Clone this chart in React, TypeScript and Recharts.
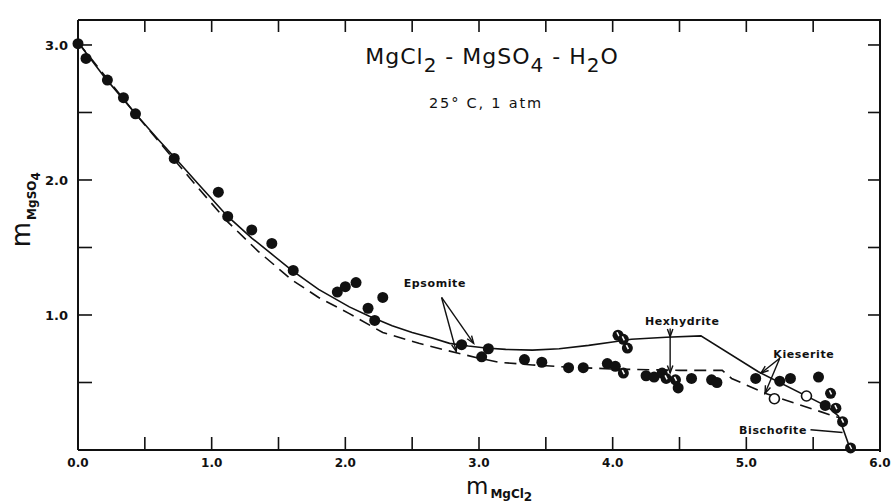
import React from "react";
import {
  ComposedChart,
  CartesianGrid,
  Line,
  Scatter,
  XAxis,
  YAxis,
  ReferenceLine,
  ReferenceDot,
} from "recharts";

// MgCl2 - MgSO4 - H2O, 25 °C, 1 atm (solubility diagram)
const X_MAX = 6;
const Y_MAX = 3.185;
const X_TICKS = [0, 0.5, 1, 1.5, 2, 2.5, 3, 3.5, 4, 4.5, 5, 5.5, 6];
const X_LABELS = [0, 1, 2, 3, 4, 5, 6];
const Y_TICKS = [0, 0.5, 1, 1.5, 2, 2.5, 3];
const Y_LABELS = [1, 2, 3];

// computed curve (solid)
const SOLID_X = [0, 0.2, 0.43, 0.6, 0.72, 0.9, 1.12, 1.3, 1.45, 1.6, 1.8, 2.03, 2.18, 2.35, 2.5, 2.65, 2.78, 2.92, 3.05, 3.2, 3.4, 3.6, 3.82, 4.0, 4.14, 4.4, 4.66, 5.09, 5.61, 5.69, 5.78];
const SOLID_Y = [3.02, 2.76, 2.49, 2.3, 2.17, 1.97, 1.73, 1.57, 1.45, 1.33, 1.19, 1.06, 0.99, 0.92, 0.87, 0.83, 0.79, 0.77, 0.755, 0.745, 0.74, 0.75, 0.775, 0.8, 0.82, 0.835, 0.845, 0.58, 0.32, 0.25, 0.0];

// second curve (dashed)
const DASH_X = [0, 0.43, 0.72, 0.9, 1.12, 1.35, 1.6, 1.8, 2.03, 2.28, 2.55, 2.83, 3.0, 3.15, 3.4, 3.65, 4.0, 4.5, 4.82, 4.89, 5.14, 5.69, 5.72];
const DASH_Y = [3.02, 2.49, 2.15, 1.94, 1.69, 1.47, 1.26, 1.13, 1.01, 0.87, 0.79, 0.72, 0.68, 0.65, 0.63, 0.615, 0.6, 0.59, 0.59, 0.53, 0.42, 0.24, 0.21];

// experimental points
const FILLED_X = [0.0, 0.06, 0.22, 0.34, 0.43, 0.72, 1.05, 1.12, 1.3, 1.45, 1.61, 1.94, 2.0, 2.08, 2.28, 2.17, 2.22, 2.87, 3.07, 3.02, 3.34, 3.47, 3.67, 3.78, 3.96, 4.02, 4.25, 4.31, 4.37, 4.49, 4.59, 4.74, 4.78, 5.07, 5.25, 5.33, 5.54, 5.59];
const FILLED_Y = [3.01, 2.9, 2.74, 2.61, 2.49, 2.16, 1.91, 1.73, 1.63, 1.53, 1.33, 1.17, 1.21, 1.24, 1.13, 1.05, 0.96, 0.78, 0.75, 0.69, 0.67, 0.65, 0.61, 0.61, 0.64, 0.62, 0.55, 0.54, 0.57, 0.46, 0.53, 0.52, 0.5, 0.53, 0.51, 0.53, 0.54, 0.33];
const HALF_X = [4.04, 4.08, 4.11, 4.08, 4.4, 4.47, 5.63, 5.67, 5.72, 5.78];
const HALF_Y = [0.85, 0.82, 0.755, 0.57, 0.53, 0.52, 0.42, 0.31, 0.21, 0.015];
const OPEN_X = [5.21, 5.45];
const OPEN_Y = [0.38, 0.4];

// phase labels and arrows (data units)
const LABEL_TEXT = ["Epsomite", "Hexhydrite", "Kieserite", "Bischofite"];
const LABEL_X = [2.67, 4.52, 5.43, 5.2];
const LABEL_Y = [1.235, 0.955, 0.71, 0.148];
const ARROWS: [number, number, number, number][] = [
  [2.72, 1.13, 2.96, 0.79],
  [2.72, 1.13, 2.83, 0.73],
  [4.43, 0.9, 4.43, 0.84],
  [4.43, 0.84, 4.43, 0.57],
  [5.25, 0.68, 5.11, 0.57],
  [5.25, 0.68, 5.14, 0.42],
];
const LEADER: [number, number, number, number] = [5.48, 0.15, 5.72, 0.13];

const INK = "#111";
const FONT = "'DejaVu Sans', sans-serif";

const zip = (xs: number[], ys: number[]) => xs.map((x, i) => ({ x, y: ys[i] }));
const solid = zip(SOLID_X, SOLID_Y);
const dashed = zip(DASH_X, DASH_Y);
const filled = zip(FILLED_X, FILLED_Y);
const half = zip(HALF_X, HALF_Y);
const open = zip(OPEN_X, OPEN_Y);

const BottomTick = ({ x, y, payload }: any) => (
  <g>
    <line x1={x} y1={y} x2={x} y2={y - 13} stroke={INK} strokeWidth={1.6} />
    {X_LABELS.includes(payload.value) && (
      <text x={x} y={y + 17} textAnchor="middle" fontFamily={FONT} fontWeight="bold" fontSize={12} fill={INK}>
        {payload.value.toFixed(1)}
      </text>
    )}
  </g>
);

const LeftTick = ({ x, y, payload }: any) => (
  <g>
    <line x1={x} y1={y} x2={x + 14} y2={y} stroke={INK} strokeWidth={1.6} />
    {Y_LABELS.includes(payload.value) && (
      <text x={x - 10} y={y + 5} textAnchor="end" fontFamily={FONT} fontWeight="bold" fontSize={13} fill={INK}>
        {payload.value.toFixed(1)}
      </text>
    )}
  </g>
);

// grid line renderers: full frame edges, and short inward ticks on top / right
const EdgeLine = (p: any) => (
  <line key={p.key} x1={p.x1} y1={p.y1} x2={p.x2} y2={p.y2} stroke={INK} strokeWidth={2} />
);
const TopTickLine = (p: any) => {
  const top = Math.min(p.y1, p.y2);
  return <line key={p.key} x1={p.x1} y1={top} x2={p.x1} y2={top + 12} stroke={INK} strokeWidth={1.6} />;
};
const RightTickLine = (p: any) => {
  const right = Math.max(p.x1, p.x2);
  return <line key={p.key} x1={right} y1={p.y1} x2={right - 12} y2={p.y1} stroke={INK} strokeWidth={1.6} />;
};

const Dot = ({ cx, cy }: any) => <circle cx={cx} cy={cy} r={5.5} fill={INK} />;
const HalfDot = ({ cx, cy }: any) => (
  <g>
    <circle cx={cx} cy={cy} r={5.5} fill={INK} />
    <line x1={cx - 1} y1={cy - 3} x2={cx + 1} y2={cy + 1} stroke="#fff" strokeWidth={1.5} />
  </g>
);
const OpenDot = ({ cx, cy }: any) => (
  <circle cx={cx} cy={cy} r={5} fill="#fff" stroke={INK} strokeWidth={1.6} />
);

const Arrow = ({ x1, y1, x2, y2 }: any) => {
  const a = Math.atan2(y2 - y1, x2 - x1);
  const h = 8;
  const p1 = [x2 - h * Math.cos(a - 0.35), y2 - h * Math.sin(a - 0.35)];
  const p2 = [x2 - h * Math.cos(a + 0.35), y2 - h * Math.sin(a + 0.35)];
  return (
    <g>
      <line x1={x1} y1={y1} x2={x2} y2={y2} stroke={INK} strokeWidth={1.4} />
      <polyline points={`${p1[0]},${p1[1]} ${x2},${y2} ${p2[0]},${p2[1]}`} fill="none" stroke={INK} strokeWidth={1.4} />
    </g>
  );
};

const Leader = ({ x1, y1, x2, y2 }: any) => (
  <line x1={x1} y1={y1} x2={x2} y2={y2} stroke={INK} strokeWidth={1.4} />
);

export default function App() {
  return (
    <div style={{ position: "fixed", left: 0, top: 0, width: 892, height: 504, background: "#fff" }}>
      <ComposedChart width={892} height={504} margin={{ top: 20, right: 12, bottom: 0, left: 0 }}>
        <XAxis
          type="number"
          dataKey="x"
          domain={[0, X_MAX]}
          ticks={X_TICKS}
          interval={0}
          height={54}
          tickSize={0}
          tickMargin={0}
          tickLine={false}
          tick={<BottomTick />}
          axisLine={{ stroke: INK, strokeWidth: 2 }}
        />
        <YAxis
          type="number"
          dataKey="y"
          domain={[0, Y_MAX]}
          ticks={Y_TICKS}
          interval={0}
          width={78}
          tickSize={0}
          tickMargin={0}
          tickLine={false}
          tick={<LeftTick />}
          axisLine={{ stroke: INK, strokeWidth: 2 }}
        />
        {/* frame: top and right edges with inward ticks */}
        <CartesianGrid horizontalValues={[Y_MAX]} vertical={false} horizontal={EdgeLine} />
        <CartesianGrid verticalValues={[X_MAX]} horizontal={false} vertical={EdgeLine} />
        <CartesianGrid horizontalValues={Y_TICKS} verticalValues={X_TICKS} horizontal={RightTickLine} vertical={TopTickLine} />
        <Line data={solid} dataKey="y" type="linear" stroke={INK} strokeWidth={1.6} dot={false} isAnimationActive={false} />
        <Line data={dashed} dataKey="y" type="linear" stroke={INK} strokeWidth={1.6} strokeDasharray="12 7" dot={false} isAnimationActive={false} />
        <Scatter data={filled} dataKey="y" shape={<Dot />} isAnimationActive={false} />
        <Scatter data={half} dataKey="y" shape={<HalfDot />} isAnimationActive={false} />
        <Scatter data={open} dataKey="y" shape={<OpenDot />} isAnimationActive={false} />
        {ARROWS.map((s, i) => (
          <ReferenceLine key={`a${i}`} segment={[{ x: s[0], y: s[1] }, { x: s[2], y: s[3] }]} shape={Arrow} />
        ))}
        <ReferenceLine segment={[{ x: LEADER[0], y: LEADER[1] }, { x: LEADER[2], y: LEADER[3] }]} shape={Leader} />
        {LABEL_TEXT.map((t, i) => (
          <ReferenceDot
            key={t}
            x={LABEL_X[i]}
            y={LABEL_Y[i]}
            r={0}
            shape={(p: any) => (
              <text x={p.cx} y={p.cy} textAnchor="middle" dominantBaseline="central" fontFamily={FONT} fontWeight="bold" fontSize={11} letterSpacing={0.6} fill={INK}>
                {t}
              </text>
            )}
          />
        ))}
      </ComposedChart>

      {/* box edges (same place as the grid edges above) */}
      <div
        style={{
          position: "absolute",
          left: 78,
          top: 19,
          width: 801,
          height: 431,
          borderTop: `2px solid ${INK}`,
          borderRight: `2px solid ${INK}`,
          pointerEvents: "none",
        }}
      />

      {/* title */}
      <div style={{ position: "absolute", left: 292, top: 44, width: 400, textAlign: "center", fontFamily: FONT, fontSize: 22, color: INK, letterSpacing: 1 }}>
        MgCl<sub style={{ fontSize: 20, verticalAlign: -8 }}>2</sub> - MgSO<sub style={{ fontSize: 20, verticalAlign: -8 }}>4</sub> - H<sub style={{ fontSize: 20, verticalAlign: -8 }}>2</sub>O
      </div>
      <div style={{ position: "absolute", left: 386, top: 95, width: 200, textAlign: "center", fontFamily: FONT, fontSize: 14.5, color: INK, letterSpacing: 1.8 }}>
        25° C, 1 atm
      </div>

      {/* axis titles */}
      <div style={{ position: "absolute", left: 466, top: 475, lineHeight: 1, fontFamily: FONT, color: INK, whiteSpace: "nowrap" }}>
        <span style={{ fontSize: 23 }}>m</span>
        <span style={{ fontSize: 12, fontWeight: "bold", position: "relative", top: 4, marginLeft: 2 }}>
          MgCl<sub style={{ fontSize: 12, lineHeight: 1, verticalAlign: -3 }}>2</sub>
        </span>
      </div>
      <div
        style={{
          position: "absolute",
          left: -28,
          top: 196,
          width: 100,
          lineHeight: 1,
          textAlign: "center",
          transform: "rotate(-90deg)",
          fontFamily: FONT,
          color: INK,
          whiteSpace: "nowrap",
        }}
      >
        <span style={{ fontSize: 26 }}>m</span>
        <span style={{ fontSize: 12, fontWeight: "bold", position: "relative", top: 6, marginLeft: 2 }}>
          MgSO<sub style={{ fontSize: 12, lineHeight: 1 }}>4</sub>
        </span>
      </div>
    </div>
  );
}
